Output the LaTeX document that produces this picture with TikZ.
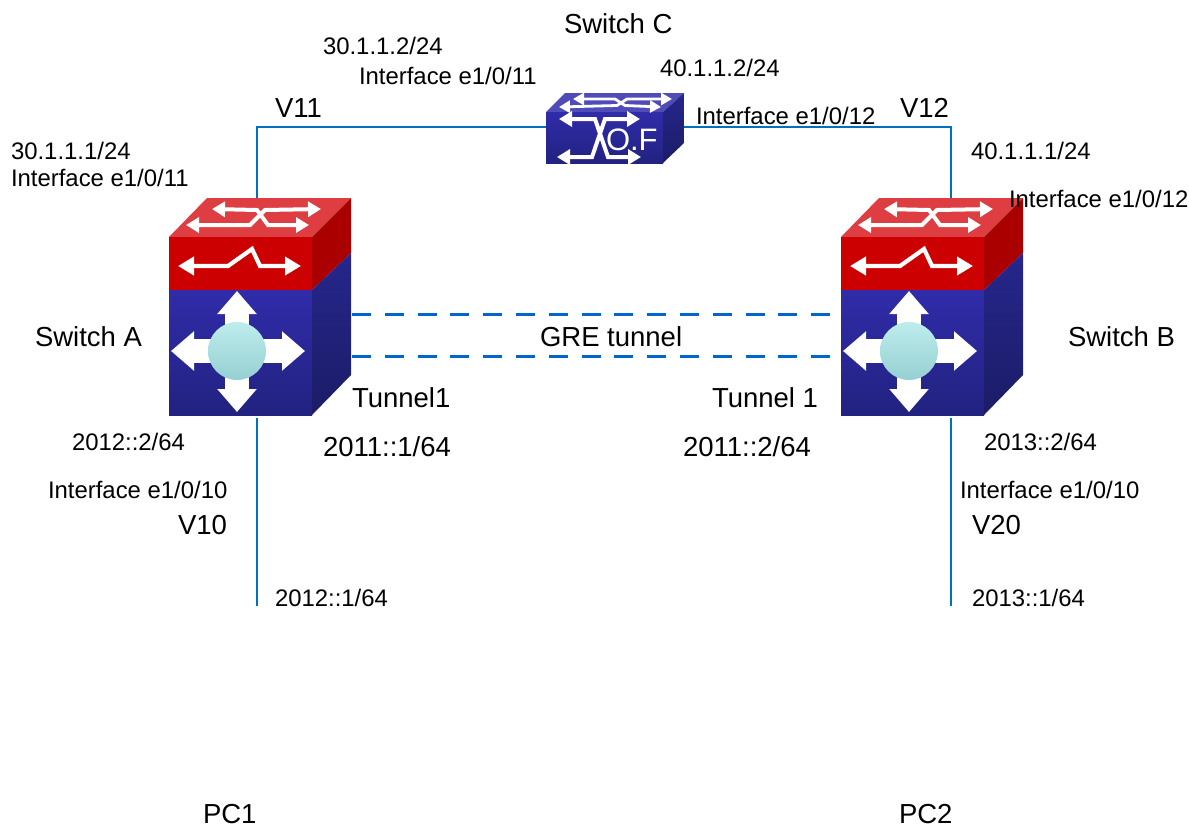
\documentclass[tikz,border=0pt]{standalone}
\usepackage{fontspec}
\setmainfont{Liberation Sans}
\usetikzlibrary{arrows.meta}
\definecolor{linkblue}{RGB}{0,112,192}
\definecolor{dashblue}{RGB}{0,102,204}
\definecolor{redtop}{RGB}{222,62,66}
\definecolor{redfront}{RGB}{204,0,0}
\definecolor{redside}{RGB}{170,0,0}
\definecolor{bluetopf}{RGB}{48,44,170}
\definecolor{bluebot}{RGB}{34,34,128}
\definecolor{bluesidetop}{RGB}{38,38,140}
\definecolor{bluesidebot}{RGB}{28,28,104}
\definecolor{cballa}{RGB}{190,236,236}
\definecolor{cballb}{RGB}{150,208,210}
\tikzset{
  lbl/.style={anchor=base west,inner sep=0pt,outer sep=0pt,font=\fontsize{23.9}{26}\selectfont,text=black},
  lblbig/.style={lbl,font=\fontsize{27.5}{30}\selectfont},
  link/.style={draw=linkblue,line width=1.6pt},
  tunnel/.style={draw=dashblue,line width=2.6pt,dash pattern=on 19pt off 13.8pt},
  wa/.style={draw=white,line width=4.2pt,line join=miter,{Triangle[width=18pt,length=16pt]}-{Triangle[width=18pt,length=16pt]}},
  wb/.style={draw=white,line width=4pt,line join=miter,{Triangle[width=15pt,length=13pt]}-{Triangle[width=15pt,length=13pt]}},
  wd/.style={draw=white,line width=2.8pt,line join=miter,{Triangle[width=12pt,length=11pt]}-{Triangle[width=12pt,length=11pt]}},
  wc/.style={draw=white,line width=24pt,-{Triangle[width=38pt,length=23pt]}},
  box/.style={inner sep=0pt,outer sep=0pt,draw=none,fill=none},
}
\newcommand{\bigswitch}[1]{%
\begin{scope}[shift={(#1,0)}]
  \fill[redtop] (169,237) -- (207,198) -- (351,198) -- (312,237) -- cycle;
  \fill[redfront] (169,237) rectangle (312,290);
  \fill[redside] (312,237) -- (351,198) -- (351,253) -- (312,290) -- cycle;
  \shade[top color=bluetopf,bottom color=bluebot] (169,290) rectangle (312,415);
  \shade[top color=bluesidetop,bottom color=bluesidebot] (312,290) -- (351,253) -- (351,375) -- (312,415) -- cycle;
  \draw[wb] (212,209) -- (257,210) -- (268,225) -- (309,225);
  \draw[wb] (186,225) -- (250,225) -- (265,210) -- (321,209);
  \draw[wa] (178,266) -- (228,266) -- (252,249) -- (260,266) -- (301,266);
  \draw[wc] (237,351) -- (237,291);
  \draw[wc] (237,351) -- (237,412);
  \draw[wc] (237,351) -- (171,351);
  \draw[wc] (237,351) -- (305,351);
  \shade[top color=cballa,bottom color=cballb] (237,351) circle (29);
\end{scope}}
\begin{document}
\begin{tikzpicture}[x=1pt,y=-1pt]
\useasboundingbox (0,0) rectangle (1189,825);
\fill[white] (0,0) rectangle (1189,825);
% connector ends
\node[box,minimum width=182pt,minimum height=217pt] (swA) at (260,306.5) {};
\node[box,minimum width=182pt,minimum height=217pt] (swB) at (932,306.5) {};
\node[box,minimum width=138pt,minimum height=70pt] (swC) at (615,128) {};
\coordinate (Atop) at (257,198);
\coordinate (Abot) at (257,418);
\coordinate (Btop) at (951,198);
\coordinate (Bbot) at (951,418);
\coordinate (Cl) at (546,127);
\coordinate (Cr) at (663,127);
\coordinate (cornerA) at (257,127);
\coordinate (cornerB) at (951,127);
\coordinate (pc1) at (257,606);
\coordinate (pc2) at (951,606);
\coordinate (t1a) at (352,314.7);
\coordinate (t1b) at (831,314.7);
\coordinate (t2a) at (352,356.3);
\coordinate (t2b) at (831,356.3);
\draw[link] (Atop) -- (cornerA) -- (Cl);
\draw[link] (Cr) -- (cornerB) -- (Btop);
\draw[link] (Abot) -- (pc1);
\draw[link] (Bbot) -- (pc2);
\draw[tunnel] (t1a) -- (t1b);
\draw[tunnel] (t2a) -- (t2b);
\bigswitch{0}
\bigswitch{672}
% switch C
\fill[bluetopf!85!white] (546,112) -- (565,93) -- (684,93) -- (663,112) -- cycle;
\shade[top color=bluetopf,bottom color=bluebot] (546,112) rectangle (663,163);
\shade[top color=bluesidetop,bottom color=bluesidebot] (663,112) -- (684,93) -- (684,143) -- (663,163) -- cycle;
\draw[wd] (573,99) -- (615,99) -- (625,105.5) -- (661,107);
\draw[wd] (559,107) -- (617,105.5) -- (627,99) -- (672,99);
\draw[wb] (559,119) -- (595,119) -- (608,157) -- (641,157);
\draw[wb] (557,157) -- (592,157) -- (605,119) -- (640,119);
\node[box,text=white,font=\fontsize{31}{33}\selectfont,anchor=base west] (of) at (606,150) {O.F};
% labels
\node[lblbig] (l1) at (564,33) {Switch C};
\node[lbl] (l2) at (323,54) {30.1.1.2/24};
\node[lbl] (l3) at (359,84) {Interface e1/0/11};
\node[lbl] (l4) at (660,76) {40.1.1.2/24};
\node[lblbig] (l5) at (275,117) {V11};
\node[lbl] (l6) at (696,124) {Interface e1/0/12};
\node[lblbig] (l7) at (900,117) {V12};
\node[lbl] (l8) at (11,159) {30.1.1.1/24};
\node[lbl] (l9) at (11,186) {Interface e1/0/11};
\node[lbl] (l10) at (971,159) {40.1.1.1/24};
\node[lbl] (l11) at (1009,207) {Interface e1/0/12};
\node[lblbig] (l12) at (35,346) {Switch A};
\node[lblbig] (l13) at (540,346) {GRE tunnel};
\node[lblbig] (l14) at (1068,346) {Switch B};
\node[lblbig] (l15) at (352,407) {Tunnel1};
\node[lblbig] (l16) at (712,407) {Tunnel 1};
\node[lblbig] (l17) at (323,456) {2011::1/64};
\node[lblbig] (l18) at (683,456) {2011::2/64};
\node[lbl] (l19) at (72,450) {2012::2/64};
\node[lbl] (l20) at (984,450) {2013::2/64};
\node[lbl] (l21) at (48,498) {Interface e1/0/10};
\node[lbl] (l22) at (960,498) {Interface e1/0/10};
\node[lblbig] (l23) at (178,534) {V10};
\node[lblbig] (l24) at (972,534) {V20};
\node[lbl] (l25) at (275,606) {2012::1/64};
\node[lbl] (l26) at (972,606) {2013::1/64};
\node[lblbig] (l27) at (203,823) {PC1};
\node[lblbig] (l28) at (899,823) {PC2};
\end{tikzpicture}
\end{document}
